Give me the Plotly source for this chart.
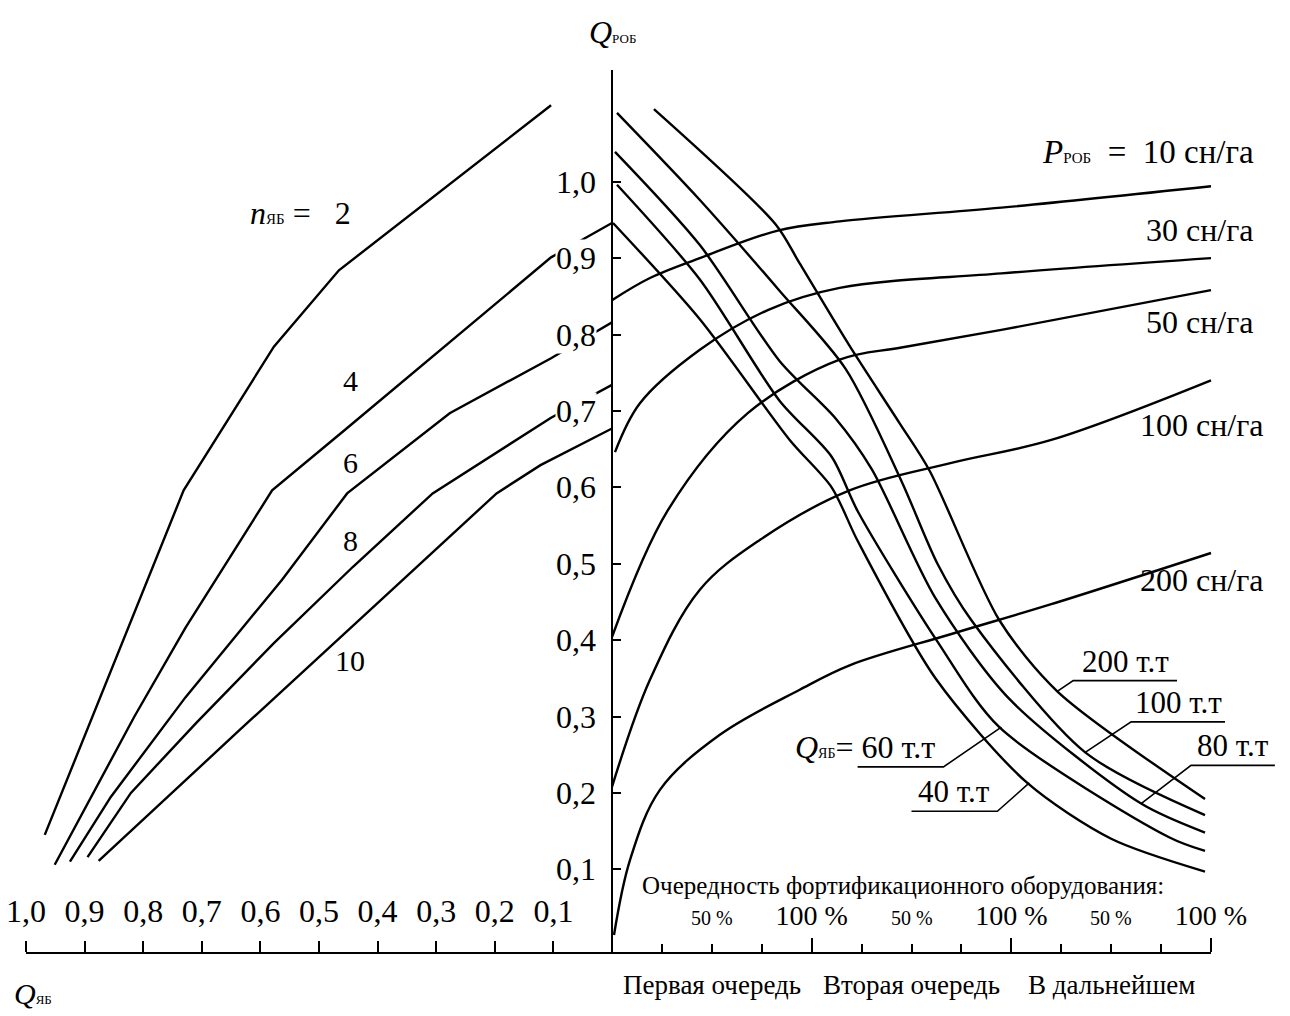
import plotly.graph_objects as go

# ---------------- data ----------------
# left part: Q_ЯБ (x, reversed) vs Q_РОБ (y), one curve per n_ЯБ
n_yab = [2, 4, 6, 8, 10]
left_q = {
    2: [0.968, 0.731, 0.577, 0.466, 0.104],
    4: [0.951, 0.815, 0.728, 0.580, 0.456, 0.310, 0.104, 0.0],
    6: [0.925, 0.855, 0.728, 0.563, 0.452, 0.277, 0.104, 0.0],
    8: [0.895, 0.821, 0.709, 0.577, 0.442, 0.306, 0.104, 0.0],
    10: [0.876, 0.633, 0.395, 0.197, 0.122, 0.0],
}
left_v = {
    2: [0.145, 0.596, 0.784, 0.884, 1.100],
    4: [0.106, 0.300, 0.416, 0.596, 0.675, 0.769, 0.901, 0.946],
    6: [0.110, 0.195, 0.325, 0.479, 0.592, 0.697, 0.769, 0.816],
    8: [0.116, 0.200, 0.292, 0.396, 0.496, 0.592, 0.691, 0.734],
    10: [0.111, 0.284, 0.452, 0.592, 0.629, 0.677],
}

# right part: queue of fortification (0..3) vs Q_РОБ
p_rob = [10, 30, 50, 100, 200]          # сн/га
p_x = {
    10: [0.0, 0.19, 0.44, 0.83, 1.14, 1.95, 3.0],
    30: [0.015, 0.14, 0.44, 0.78, 1.14, 1.95, 3.0],
    50: [0.0, 0.28, 0.68, 1.14, 1.45, 1.95, 3.0],
    100: [0.0, 0.19, 0.44, 0.74, 1.19, 1.70, 2.20, 3.0],
    200: [0.01, 0.09, 0.24, 0.54, 0.94, 1.19, 1.70, 2.20, 3.0],
}
p_v = {
    10: [0.845, 0.874, 0.900, 0.936, 0.948, 0.966, 0.994],
    30: [0.646, 0.710, 0.780, 0.832, 0.861, 0.880, 0.900],
    50: [0.404, 0.570, 0.697, 0.767, 0.783, 0.806, 0.858],
    100: [0.208, 0.348, 0.466, 0.531, 0.596, 0.632, 0.662, 0.740],
    200: [0.014, 0.112, 0.204, 0.276, 0.335, 0.367, 0.408, 0.447, 0.514],
}

q_yab_tt = [40, 60, 80, 100, 200]       # т.т
q_x = {
    40: [0.005, 0.44, 0.89, 1.10, 1.23, 1.62, 2.08, 2.50, 2.97],
    60: [0.025, 0.44, 0.84, 1.10, 1.23, 1.63, 1.94, 2.79, 2.97],
    80: [0.015, 0.44, 0.84, 1.12, 1.30, 1.62, 1.99, 2.65, 2.97],
    100: [0.025, 0.44, 0.84, 1.17, 1.45, 1.63, 1.80, 2.37, 2.97],
    200: [0.21, 0.82, 0.94, 1.19, 1.44, 1.59, 1.94, 2.23, 2.97],
}
q_v = {
    40: [0.946, 0.820, 0.662, 0.600, 0.530, 0.350, 0.213, 0.140, 0.097],
    60: [0.996, 0.872, 0.713, 0.640, 0.569, 0.398, 0.286, 0.142, 0.124],
    80: [1.039, 0.917, 0.765, 0.690, 0.624, 0.455, 0.323, 0.186, 0.148],
    100: [1.090, 0.976, 0.857, 0.755, 0.608, 0.500, 0.426, 0.253, 0.171],
    200: [1.095, 0.944, 0.893, 0.785, 0.684, 0.622, 0.426, 0.333, 0.192],
}

y_ticks = [0.1, 0.2, 0.3, 0.4, 0.5, 0.6, 0.7, 0.8, 0.9, 1.0]
y_ticktext = ["0,1", "0,2", "0,3", "0,4", "0,5", "0,6", "0,7", "0,8", "0,9", "1,0"]
qyab_ticks = [1.0, 0.9, 0.8, 0.7, 0.6, 0.5, 0.4, 0.3, 0.2, 0.1]
qyab_ticktext = ["1,0", "0,9", "0,8", "0,7", "0,6", "0,5", "0,4", "0,3", "0,2", "0,1"]
queue_major = [1, 2, 3]
queue_major_text = ["100 %", "100 %", "100 %"]
queue_half = [0.5, 1.5, 2.5]
queue_half_text = ["50 %", "50 %", "50 %"]
queue_minor = [0.25, 0.5, 0.75, 1.25, 1.5, 1.75, 2.25, 2.5, 2.75]
queue_names = ["Первая очередь", "Вторая очередь", "В дальнейшем"]

# ---------------- layout helpers ----------------
W, H = 1290, 1016
FONT = "Liberation Serif"
LW = 2.4
AXIS_PX = 612
END_PX = 1211
BASE_PX = 953
TOP_PX = 70
Q_UNIT_PX = (END_PX - AXIS_PX) / 3.0
NB = "\u00a0"


def px(x):
    return x / W


def py(y):
    return 1 - y / H


fig = go.Figure()

for n in n_yab:
    fig.add_trace(go.Scatter(x=left_q[n], y=left_v[n], mode="lines",
                             line=dict(color="black", width=LW),
                             xaxis="x", yaxis="y", showlegend=False,
                             hoverinfo="skip"))
for p in p_rob:
    fig.add_trace(go.Scatter(x=p_x[p], y=p_v[p], mode="lines",
                             line=dict(color="black", width=LW, shape="spline", smoothing=1.0),
                             xaxis="x2", yaxis="y", showlegend=False,
                             hoverinfo="skip"))
for q in q_yab_tt:
    fig.add_trace(go.Scatter(x=q_x[q], y=q_v[q], mode="lines",
                             line=dict(color="black", width=LW, shape="spline", smoothing=0.8),
                             xaxis="x2", yaxis="y", showlegend=False,
                             hoverinfo="skip"))

# label leaders for Q_ЯБ curves (x2 units, y units)
leaders = {
    200: dict(curve=(2.23, 0.333), corner=(2.31, 0.347), end=(2.83, 0.347)),
    100: dict(curve=(2.37, 0.253), corner=(2.60, 0.293), end=(3.07, 0.293)),
    80: dict(curve=(2.65, 0.186), corner=(2.90, 0.236), end=(3.32, 0.236)),
    60: dict(curve=(1.95, 0.286), corner=(1.66, 0.234), end=(1.23, 0.234)),
    40: dict(curve=(2.09, 0.213), corner=(1.93, 0.176), end=(1.50, 0.176)),
}
for q, d in leaders.items():
    fig.add_trace(go.Scatter(x=[d["curve"][0], d["corner"][0], d["end"][0]],
                             y=[d["curve"][1], d["corner"][1], d["end"][1]],
                             mode="lines", line=dict(color="black", width=1.6),
                             xaxis="x2", yaxis="y", showlegend=False,
                             hoverinfo="skip"))

# empty trace so the visible queue axis is drawn
fig.add_trace(go.Scatter(x=[], y=[], xaxis="x3", yaxis="y", showlegend=False, hoverinfo="skip"))

ydom = [1 - BASE_PX / H, 1 - TOP_PX / H]
v0 = (945.7 - BASE_PX) / 764
v1 = (945.7 - TOP_PX) / 764

fig.update_layout(
    width=W, height=H, margin=dict(l=0, r=0, t=0, b=0, autoexpand=False),
    paper_bgcolor="white", plot_bgcolor="rgba(0,0,0,0)",
    font=dict(family=FONT, color="black"),
    showlegend=False,
    xaxis=dict(domain=[px(26), px(AXIS_PX)], range=[1.0, 0.0], anchor="free",
               position=ydom[0], side="top", showgrid=False, zeroline=False,
               automargin=False,
               showline=True, linecolor="black", linewidth=2.4,
               ticks="outside", ticklen=11, tickwidth=2.2, tickcolor="black",
               tickvals=qyab_ticks, ticktext=qyab_ticktext,
               tickfont=dict(size=32, family=FONT), ticklabelstandoff=6),
    xaxis2=dict(domain=[px(AXIS_PX), 1.0], range=[0.0, (W - AXIS_PX) / Q_UNIT_PX],
                anchor="free", position=ydom[0], visible=False, automargin=False,
                showgrid=False, zeroline=False),
    xaxis3=dict(domain=[px(AXIS_PX), px(END_PX)], range=[0.0, 3.0], anchor="free",
                position=ydom[0], side="top", showgrid=False, zeroline=False,
                automargin=False,
                showline=True, linecolor="black", linewidth=2.4,
                ticks="outside", ticklen=14, tickwidth=2.2, tickcolor="black",
                tickvals=queue_major, ticktext=queue_major_text,
                tickfont=dict(size=28, family=FONT), ticklabelstandoff=2,
                minor=dict(tickvals=queue_minor, ticks="outside",
                           ticklen=8, tickwidth=2, tickcolor="black")),
    yaxis=dict(domain=ydom, range=[v0, v1], anchor="free", position=px(AXIS_PX),
               side="left", showgrid=False, zeroline=False, automargin=False,
               showline=True, linecolor="black", linewidth=2.4,
               ticks="inside", ticklen=8, tickwidth=2, tickcolor="black",
               tickvals=y_ticks, showticklabels=False),
)

ann = []


def add_text(x, y, text, size, xanchor="center", yanchor="middle", xref="paper", yref="paper", bg=None):
    d = dict(x=x, y=y, xref=xref, yref=yref, text=text, showarrow=False,
             xanchor=xanchor, yanchor=yanchor,
             font=dict(size=size, family=FONT, color="black"))
    if bg:
        d.update(bgcolor=bg, borderpad=0)
    ann.append(d)


sub = lambda s, sz=13: f"<span style='font-size:{sz}px'>{s}</span>"

# value labels of the Q_РОБ axis (white background: the curves pass behind them)
for v, t in zip(y_ticks, y_ticktext):
    add_text(px(597), v, t, 32, xanchor="right", yref="y", bg="white")

add_text(px(612), py(32), "<i>Q</i>" + sub("РОБ"), 32)
add_text(px(12), py(993), "<i>Q</i>" + sub("ЯБ"), 30, xanchor="left")
add_text(px(248), py(213), "<i>n</i>" + sub("ЯБ", 15) + NB + "=" + NB * 3 + "2", 32, xanchor="left")
for lab, (xx, yy) in zip(["4", "6", "8", "10"], [(350, 380), (350, 462), (350, 540), (350, 660)]):
    add_text(px(xx), py(yy), lab, 30)
add_text(px(1256), py(152), "<i>P</i>" + sub("РОБ", 15) + NB * 2 + "=" + NB * 2 + "10 сн/га", 33,
         xanchor="right")
for lab, (xx, yy) in zip(["30 сн/га", "50 сн/га", "100 сн/га", "200 сн/га"],
                         [(1256, 230), (1256, 322), (1266, 425), (1266, 580)]):
    add_text(px(xx), py(yy), lab, 32, xanchor="right")

# Q_ЯБ curve labels, sitting on their leader underlines
for q, d in leaders.items():
    xs = sorted([d["corner"][0], d["end"][0]])
    if q == 60:
        text = "<i>Q</i>" + sub("ЯБ", 14) + "=" + NB + "60 т.т"
        ann.append(dict(x=xs[1] - 0.03, y=d["end"][1], xref="x2", yref="y", text=text,
                        showarrow=False, xanchor="right", yanchor="bottom",
                        font=dict(size=32, family=FONT, color="black")))
    else:
        ann.append(dict(x=(xs[0] + xs[1]) / 2, y=d["end"][1], xref="x2", yref="y",
                        text=f"{q} т.т", showarrow=False, xanchor="center", yanchor="bottom",
                        font=dict(size=31, family=FONT, color="black")))

add_text(px(640), py(885), "Очередность фортификационного оборудования:", 25, xanchor="left")
for xv, t in zip(queue_half, queue_half_text):
    ann.append(dict(x=xv, y=py(918), xref="x3", yref="paper", text=t, showarrow=False,
                    xanchor="center", yanchor="middle",
                    font=dict(size=20, family=FONT, color="black")))
for i, name in enumerate(queue_names):
    ann.append(dict(x=i + 0.5, y=py(985), xref="x3", yref="paper", text=name, showarrow=False,
                    xanchor="center", yanchor="middle",
                    font=dict(size=27, family=FONT, color="black")))

fig.update_layout(annotations=ann)
fig.write_html("out.html", config={"displayModeBar": False},
               post_script="document.body.style.margin='0';document.body.style.overflow='hidden';")
